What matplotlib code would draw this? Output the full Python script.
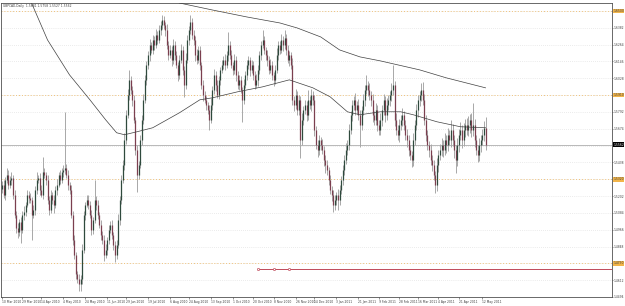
"""GBPCAD daily candles, MT4 style."""

import matplotlib
matplotlib.use('Agg')
import matplotlib.pyplot as plt
import matplotlib.transforms as mtransforms
import numpy as np
import pandas as pd

FIRST_DAY = '2010-03-10'
FIRST_OPEN = 1.5250

# daily closes, one per bar
CLOSE = [
    1.5282, 1.5212, 1.5317, 1.5352, 1.5282, 1.5317, 1.5331, 1.5212, 1.5072, 1.4981,
    1.4953, 1.5023, 1.4967, 1.5072, 1.5093, 1.5142, 1.5212, 1.5191, 1.5177, 1.5072,
    1.5107, 1.5247, 1.5317, 1.5331, 1.5247, 1.5212, 1.5373, 1.5352, 1.5317, 1.5177,
    1.5107, 1.5212, 1.5177, 1.5142, 1.5247, 1.5282, 1.5352, 1.5317, 1.5373, 1.5387,
    1.5401, 1.5352, 1.5282, 1.5247, 1.5072, 1.4897, 1.4792, 1.4652, 1.4617, 1.4582,
    1.4617, 1.4827, 1.5072, 1.5142, 1.5177, 1.5142, 1.5072, 1.4967, 1.5037, 1.5177,
    1.5142, 1.5072, 1.5002, 1.4932, 1.4897, 1.4792, 1.4827, 1.4897, 1.4967, 1.5002,
    1.4932, 1.4862, 1.4792, 1.4862, 1.5037, 1.5177, 1.5317, 1.5422, 1.5597, 1.5772,
    1.5912, 1.6017, 1.5947, 1.5877, 1.5737, 1.5527, 1.5352, 1.5422, 1.5597, 1.5737,
    1.5877, 1.6017, 1.6122, 1.6192, 1.6262, 1.6227, 1.6297, 1.6262, 1.6332, 1.6297,
    1.6367, 1.6402, 1.6437, 1.6402, 1.6367, 1.6262, 1.6192, 1.6227, 1.6157, 1.6262,
    1.6192, 1.6122, 1.6052, 1.6157, 1.6227, 1.6087, 1.5982, 1.6157, 1.6297, 1.6367,
    1.6423, 1.6332, 1.6297, 1.6192, 1.6157, 1.6227, 1.6122, 1.5982, 1.5912, 1.5877,
    1.5842, 1.5807, 1.5737, 1.5842, 1.5947, 1.6052, 1.5982, 1.5912, 1.6017, 1.6087,
    1.6122, 1.6157, 1.6122, 1.6192, 1.6262, 1.6192, 1.6122, 1.6087, 1.6157, 1.6052,
    1.5982, 1.6017, 1.5947, 1.5877, 1.5982, 1.6052, 1.6122, 1.6157, 1.6087, 1.6122,
    1.6052, 1.5982, 1.6017, 1.6087, 1.6192, 1.6262, 1.6297, 1.6227, 1.6192, 1.6157,
    1.6087, 1.6122, 1.6052, 1.6017, 1.6087, 1.6192, 1.6262, 1.6227, 1.6297, 1.6262,
    1.6311, 1.6227, 1.6157, 1.6192, 1.6122, 1.5877, 1.5842, 1.5912, 1.5807, 1.5877,
    1.5597, 1.5737, 1.5807, 1.5842, 1.5772, 1.5877, 1.5842, 1.5912, 1.5877, 1.5667,
    1.5562, 1.5527, 1.5597, 1.5562, 1.5527, 1.5457, 1.5422, 1.5387, 1.5317, 1.5247,
    1.5212, 1.5142, 1.5177, 1.5212, 1.5177, 1.5247, 1.5317, 1.5387, 1.5457, 1.5527,
    1.5562, 1.5667, 1.5772, 1.5842, 1.5877, 1.5807, 1.5842, 1.5772, 1.5702, 1.5807,
    1.5877, 1.5947, 1.5982, 1.5947, 1.5912, 1.5877, 1.5772, 1.5737, 1.5807, 1.5702,
    1.5667, 1.5737, 1.5807, 1.5877, 1.5772, 1.5842, 1.5877, 1.5912, 1.5947, 1.5982,
    1.5737, 1.5667, 1.5632, 1.5702, 1.5737, 1.5772, 1.5702, 1.5632, 1.5597, 1.5527,
    1.5492, 1.5457, 1.5597, 1.5702, 1.5807, 1.5877, 1.5912, 1.5947, 1.5877, 1.5737,
    1.5632, 1.5562, 1.5527, 1.5457, 1.5422, 1.5352, 1.5282, 1.5422, 1.5492, 1.5527,
    1.5562, 1.5527, 1.5597, 1.5562, 1.5632, 1.5597, 1.5667, 1.5597, 1.5527, 1.5457,
    1.5562, 1.5632, 1.5667, 1.5597, 1.5667, 1.5702, 1.5667, 1.5702, 1.5737, 1.5667,
    1.5702, 1.5597, 1.5527, 1.5492, 1.5562, 1.5597, 1.5632, 1.5681, 1.5562,
]

# wick length above / below the body, in pips
WICK_UP = [
    25, 30, 20, 49, 35, 25, 42, 20, 30, 25,
    35, 20, 30, 25, 40, 20, 30, 25, 35, 20,
    30, 25, 56, 20, 30, 35, 105, 25, 20, 30,
    25, 35, 20, 30, 25, 40, 20, 35, 25, 30,
    392, 25, 30, 20, 35, 25, 30, 20, 25, 35,
    30, 40, 25, 20, 35, 35, 25, 30, 20, 140,
    25, 30, 20, 35, 25, 30, 40, 20, 30, 25,
    35, 20, 25, 30, 40, 25, 35, 30, 45, 35,
    40, 70, 30, 25, 35, 20, 30, 25, 35, 30,
    40, 35, 25, 30, 45, 20, 35, 25, 40, 30,
    35, 25, 35, 30, 20, 40, 25, 35, 30, 45,
    25, 30, 20, 35, 40, 25, 30, 45, 35, 30,
    49, 25, 35, 30, 40, 25, 30, 20, 35, 25,
    30, 20, 35, 45, 30, 40, 25, 35, 30, 20,
    35, 25, 40, 30, 91, 25, 35, 20, 40, 30,
    25, 35, 30, 20, 40, 25, 35, 30, 20, 35,
    30, 25, 40, 35, 30, 25, 70, 30, 20, 35,
    25, 40, 30, 20, 35, 45, 30, 25, 40, 30,
    56, 25, 35, 30, 20, 45, 30, 40, 25, 35,
    30, 45, 25, 35, 30, 70, 25, 40, 30, 35,
    25, 35, 30, 20, 40, 25, 30, 35, 20, 30,
    25, 35, 30, 20, 40, 30, 25, 35, 30, 45,
    30, 40, 25, 35, 30, 45, 25, 40, 35, 30,
    40, 35, 70, 30, 45, 25, 40, 30, 50, 35,
    30, 45, 35, 40, 30, 50, 35, 30, 45, 140,
    30, 45, 35, 40, 30, 50, 25, 35, 40, 30,
    35, 25, 45, 30, 40, 35, 30, 45, 56, 40,
    30, 35, 25, 40, 30, 35, 25, 50, 35, 40,
    45, 35, 50, 30, 45, 35, 70, 40, 35, 30,
    45, 40, 55, 35, 50, 40, 45, 60, 40, 50,
    154, 40, 35, 30, 45, 35, 40, 45, 77,
]
WICK_DN = [
    30, 25, 35, 20, 30, 25, 35, 30, 25, 35,
    42, 30, 91, 25, 35, 30, 20, 35, 25, 175,
    25, 35, 30, 25, 35, 20, 30, 25, 35, 30,
    35, 25, 30, 56, 25, 35, 20, 30, 25, 35,
    30, 25, 35, 30, 25, 40, 30, 35, 25, 49,
    49, 30, 25, 35, 20, 30, 25, 40, 30, 25,
    35, 30, 25, 35, 30, 49, 25, 35, 30, 25,
    30, 35, 56, 30, 25, 35, 30, 25, 35, 30,
    25, 35, 30, 40, 25, 35, 119, 30, 25, 35,
    30, 25, 35, 30, 40, 25, 30, 35, 25, 30,
    25, 35, 30, 25, 40, 30, 35, 25, 40, 30,
    35, 25, 40, 30, 25, 35, 84, 30, 25, 35,
    30, 25, 35, 40, 30, 25, 35, 30, 40, 25,
    35, 30, 70, 25, 35, 30, 40, 25, 30, 35,
    25, 30, 35, 25, 40, 30, 25, 35, 30, 40,
    30, 35, 25, 154, 30, 25, 35, 30, 40, 25,
    35, 30, 25, 40, 30, 35, 25, 30, 35, 40,
    30, 25, 35, 40, 30, 25, 35, 30, 25, 40,
    30, 35, 25, 40, 30, 35, 45, 30, 40, 35,
    126, 35, 40, 30, 45, 35, 30, 40, 35, 45,
    30, 49, 35, 40, 30, 45, 56, 35, 40, 30,
    45, 49, 35, 40, 70, 35, 30, 40, 35, 30,
    40, 35, 30, 45, 35, 40, 30, 35, 154, 40,
    35, 40, 30, 45, 35, 40, 50, 35, 40, 45,
    35, 40, 45, 35, 50, 40, 35, 45, 40, 35,
    45, 40, 35, 50, 40, 45, 35, 40, 50, 45,
    40, 49, 45, 40, 35, 50, 40, 45, 35, 40,
    45, 40, 50, 35, 45, 40, 56, 45, 50, 40,
    45, 50, 40, 55, 45, 40, 50, 45, 55, 91,
    45, 50, 40, 55, 45, 50, 40, 45, 55, 50,
    45, 50, 40, 49, 45, 50, 40, 45, 35,
]

# moving averages, sampled at a few bars
MA_FAST_BAR = [15, 18, 29, 43, 56, 66, 73, 78, 86, 96, 113, 126, 134, 150,
               166, 183, 198, 209, 220, 228, 241, 254, 262, 277, 292, 308]
MA_FAST = [1.6647, 1.6577, 1.6297, 1.6052, 1.5877, 1.5737, 1.5646, 1.5632,
           1.5653, 1.5681, 1.5786, 1.5877, 1.5891, 1.5933, 1.5968, 1.6017,
           1.5961, 1.5898, 1.5793, 1.5772, 1.5793, 1.5793, 1.5772, 1.5723,
           1.5688, 1.5681]
MA_SLOW_BAR = [104, 109, 113, 134, 156, 177, 188, 203, 215, 228, 241, 266, 283, 308]
MA_SLOW = [1.6598, 1.6577, 1.6556, 1.6507, 1.6458, 1.6416, 1.6381, 1.6318,
           1.6227, 1.6178, 1.6150, 1.6087, 1.6031, 1.5961]

PRICE_TICKS = [1.6500, 1.6382, 1.6264, 1.6146, 1.6028, 1.5910, 1.5792, 1.5674,
               1.5556, 1.5438, 1.5320, 1.5202, 1.5084, 1.4966, 1.4848, 1.4730,
               1.4612, 1.4494]
ORANGE_LEVELS = [1.6500, 1.5910, 1.5320, 1.4730]
RED_LEVEL = 1.4687
RED_MARKS = ['2010-10-25', '2010-11-08', '2010-11-22']

DATE_LABELS = ['10 Mar 2010', '29 Mar 2010', '14 Apr 2010', '4 May 2010',
               '24 May 2010', '11 Jun 2010', '29 Jun 2010', '19 Jul 2010',
               '6 Aug 2010', '24 Aug 2010', '13 Sep 2010', '1 Oct 2010',
               '20 Oct 2010', '8 Nov 2010', '26 Nov 2010', '14 Dec 2010',
               '3 Jan 2011', '21 Jan 2011', '9 Feb 2011', '28 Feb 2011',
               '16 Mar 2011', '4 Apr 2011', '21 Apr 2011', '12 May 2011']

BULL = '#2f4a3d'
BEAR = '#7b3f4f'
WICK = '#a8a8a8'
ORANGE = '#f0c27a'
FS = 2.2

close = np.array(CLOSE)
opens = np.concatenate([[FIRST_OPEN], close[:-1]])
top = np.maximum(opens, close)
bot = np.minimum(opens, close)
high = top + np.array(WICK_UP) * 1e-4
low = bot - np.array(WICK_DN) * 1e-4
days = pd.bdate_range(FIRST_DAY, periods=len(close))
x = np.arange(len(close))


def bar_of(day):
    return int(days.searchsorted(pd.Timestamp(day)))


fig = plt.figure(figsize=(6.25, 3.06), dpi=100)
ax = fig.add_axes([1 / 625, 9 / 306, 611 / 625, 294 / 306])
px = 1.57  # pixels per bar
ax.set_xlim(-1 / px, (612 - 2) / px)
ax.set_ylim(1.4498, 1.6556)

for level in PRICE_TICKS:
    ax.axhline(level, color='#d8d8d8', lw=0.5, ls=(0, (1, 2)), zorder=0)
for level in ORANGE_LEVELS:
    ax.axhline(level, color=ORANGE, lw=0.7, ls=(0, (1, 2)), zorder=0.5)
ax.axhline(close[-1], color='#b8b8b8', lw=0.7, zorder=0.6)

ax.vlines(x, low, high, color=WICK, lw=0.7, zorder=1)
colors = [BULL if c >= o else BEAR for o, c in zip(opens, close)]
ax.vlines(x, bot, np.maximum(top, bot + 0.0003), color=colors, lw=0.9, zorder=2)

ax.plot(MA_FAST_BAR, MA_FAST, color='#404040', lw=0.5, zorder=3)
ax.plot(MA_SLOW_BAR, MA_SLOW, color='#404040', lw=0.5, zorder=3)

red_bars = [bar_of(d) for d in RED_MARKS]
ax.hlines(RED_LEVEL, red_bars[0], ax.get_xlim()[1], color='#c04a5a', lw=0.7, zorder=3)
ax.plot(red_bars, [RED_LEVEL] * len(red_bars), ls='none', marker='o', ms=1.6,
        mfc='white', mec='#c04a5a', mew=0.5, zorder=4)

ax.yaxis.tick_right()
ax.set_yticks(PRICE_TICKS)
ax.set_yticklabels([f'{v:.4f}' for v in PRICE_TICKS])
ax.tick_params(axis='y', labelsize=FS, length=1, width=0.4, pad=0.3, colors='#404040')
ax.set_xticks([bar_of(d) for d in DATE_LABELS])
ax.set_xticklabels(DATE_LABELS)
for t in ax.get_xticklabels():
    t.set_horizontalalignment('left')
ax.tick_params(axis='x', labelsize=FS, length=1.5, width=0.4, pad=0.5, colors='#404040')
for side in ('left', 'top', 'right', 'bottom'):
    ax.spines[side].set_linewidth(0.6)
    ax.spines[side].set_color('#505050')

trans = mtransforms.blended_transform_factory(ax.transAxes, ax.transData)
for level in ORANGE_LEVELS:
    ax.text(1.002, level, f'{level:.4f}', transform=trans, fontsize=FS, va='center',
            ha='left', color='#404040',
            bbox=dict(boxstyle='square,pad=0.1', fc='#f2b54a', ec='none'))
ax.text(1.002, close[-1], f'{close[-1]:.4f}', transform=trans, fontsize=FS,
        va='center', ha='left', color='white',
        bbox=dict(boxstyle='square,pad=0.1', fc='black', ec='none'))

ax.text(0.004, 0.995, f'GBPCAD,Daily  {opens[-1]:.4f} {high[-1]:.4f} '
        f'{low[-1]:.4f} {close[-1]:.4f}', transform=ax.transAxes,
        fontsize=FS, va='top', ha='left', color='#404040')

fig.savefig('out.png', dpi=100)
